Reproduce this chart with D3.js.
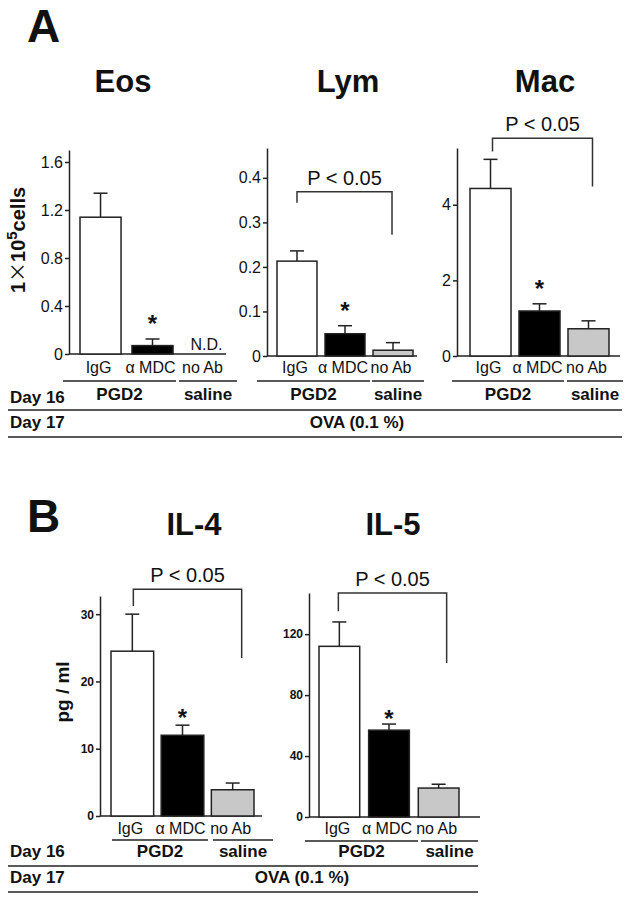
<!DOCTYPE html>
<html>
<head>
<meta charset="utf-8">
<script src="https://cdn.jsdelivr.net/npm/d3@7"></script>
<style>
  html, body { margin: 0; padding: 0; background: #fff; }
  text { font-family: "Liberation Sans", Arial, Helvetica, sans-serif; fill: #111; }
</style>
</head>
<body>
<script>
// ---------- DATA ----------
const categories = ["IgG", "α MDC", "no Ab"];
const groups = ["PGD2", "saline"];
const barColors = ["#ffffff", "#000000", "#c8c8c8"];

const eosMean = [1.14, 0.07, null];
const eosErr  = [0.20, 0.055, null];
const eosTicks = [0, 0.4, 0.8, 1.2, 1.6];

const lymMean = [0.213, 0.05, 0.013];
const lymErr  = [0.023, 0.018, 0.017];
const lymTicks = [0, 0.1, 0.2, 0.3, 0.4];

const macMean = [4.43, 1.19, 0.72];
const macErr  = [0.77, 0.19, 0.21];
const macTicks = [0, 2, 4];

const il4Mean = [24.5, 12.0, 3.9];
const il4Err  = [5.5, 1.5, 1.0];
const il4Ticks = [0, 10, 20, 30];

const il5Mean = [112, 57, 19];
const il5Err  = [16, 4, 2.5];
const il5Ticks = [0, 40, 80, 120];

const pText = "P < 0.05";
const day16 = "Day 16", day17 = "Day 17", ovaText = "OVA (0.1 %)";

// ---------- DRAW ----------
const svg = d3.select("body").append("svg").attr("width", 626).attr("height", 900);
const INK = "#222";

function panel(p) {
  const y = d3.scaleLinear().domain([0, p.max]).range([p.y0, p.yTop]);
  const x = d3.scaleBand().domain(categories).range(p.xr).paddingInner(p.pi).paddingOuter(0);
  const g = svg.append("g");

  // title
  g.append("text").attr("x", p.titleX).attr("y", p.titleY).attr("text-anchor", "middle")
    .style("font-size", "31px").style("font-weight", "bold").text(p.title);

  // y axis
  const ax = g.append("g").attr("transform", `translate(${p.ax},0)`)
    .call(d3.axisLeft(y).tickValues(p.ticks).tickSize(4).tickSizeOuter(0).tickFormat(p.fmt));
  ax.selectAll("path, line").attr("stroke", INK).attr("stroke-width", 1.5);
  ax.selectAll("text").style("font-family", "Liberation Sans, Arial, sans-serif")
    .style("font-size", p.tickSize).style("font-weight", p.tickWeight).attr("fill", "#111")
    .attr("x", -6);

  // baseline
  g.append("line").attr("x1", p.ax).attr("x2", p.xEnd).attr("y1", p.y0).attr("y2", p.y0)
    .attr("stroke", INK).attr("stroke-width", 1.5);

  const data = categories.map((c, i) => ({c, m: p.mean[i], e: p.err[i], col: barColors[i]}));
  const valid = data.filter(d => d.m != null);

  // error bars (drawn before bars)
  valid.forEach(d => {
    const cx = x(d.c) + x.bandwidth() / 2;
    g.append("line").attr("x1", cx).attr("x2", cx).attr("y1", y(d.m)).attr("y2", y(d.m + d.e))
      .attr("stroke", INK).attr("stroke-width", 1.5);
    g.append("line").attr("x1", cx - 7).attr("x2", cx + 7).attr("y1", y(d.m + d.e)).attr("y2", y(d.m + d.e))
      .attr("stroke", INK).attr("stroke-width", 1.5);
  });

  // bars
  g.selectAll("rect.bar").data(valid).enter().append("rect")
    .attr("x", d => x(d.c)).attr("width", x.bandwidth())
    .attr("y", d => y(d.m)).attr("height", d => p.y0 - y(d.m))
    .attr("fill", d => d.col).attr("stroke", INK).attr("stroke-width", 1.5);

  // asterisk on alpha MDC
  const a = data[1];
  g.append("text").attr("x", x(a.c) + x.bandwidth() / 2).attr("y", y(a.m + a.e) - p.astGap)
    .attr("text-anchor", "middle").style("font-size", "24px").style("font-weight", "bold").text("*");

  // N.D.
  data.filter(d => d.m == null).forEach(d => {
    g.append("text").attr("x", x(d.c) + x.bandwidth() / 2 + 2).attr("y", p.y0 - 4)
      .attr("text-anchor", "middle").style("font-size", "16px").text("N.D.");
  });

  // category labels
  g.selectAll("text.cat").data(categories).enter().append("text")
    .attr("x", c => x(c) + x.bandwidth() / 2 - 2).attr("y", p.labelY)
    .attr("text-anchor", "middle").style("font-size", "16px").text(c => c);

  // group underlines + labels
  const segs = [[p.ul[0], p.ul[1]], [p.ul[2], p.ul[3]]];
  segs.forEach((s, i) => {
    g.append("line").attr("x1", s[0]).attr("x2", s[1]).attr("y1", p.ulY).attr("y2", p.ulY)
      .attr("stroke", INK).attr("stroke-width", 1.3);
    g.append("text").attr("x", (s[0] + s[1]) / 2).attr("y", p.groupY).attr("text-anchor", "middle")
      .style("font-size", "17px").style("font-weight", "bold").text(groups[i]);
  });

  // significance bracket
  if (p.br) {
    const lx = x(categories[0]) + x.bandwidth() / 2 + p.br.dl;
    const rx = x(categories[2]) + x.bandwidth() / 2 + p.br.dr;
    g.append("path")
      .attr("d", `M${lx},${y(p.br.left)}V${y(p.br.top)}H${rx}V${y(p.br.right)}`)
      .attr("fill", "none").attr("stroke", "#333").attr("stroke-width", 1.5);
    g.append("text").attr("x", (lx + rx) / 2 + p.br.tdx).attr("y", y(p.br.top) - 7)
      .attr("text-anchor", "middle").style("font-size", "20px").text(pText);
  }
}

const fmt1 = d => d === 0 ? "0" : d3.format(".1f")(d);
const fmt0 = d => String(d);

// Panel A
svg.append("text").attr("x", 27).attr("y", 42).style("font-size", "46px").style("font-weight", "bold").text("A");

panel({title: "Eos", titleX: 123, titleY: 92, ax: 69, y0: 354, yTop: 150, max: 1.7, xEnd: 226,
  ticks: eosTicks, fmt: fmt1, tickSize: "16px", tickWeight: "normal",
  xr: [80, 225], pi: 0.21, mean: eosMean, err: eosErr, astGap: 7,
  labelY: 373, ulY: 381, ul: [63, 176, 179, 237], groupY: 400, br: null});

panel({title: "Lym", titleX: 348, titleY: 92, ax: 267, y0: 356, yTop: 148, max: 0.467, xEnd: 417,
  ticks: lymTicks, fmt: fmt1, tickSize: "16px", tickWeight: "normal",
  xr: [277, 413], pi: 0.167, mean: lymMean, err: lymErr, astGap: 7,
  labelY: 373, ulY: 381, ul: [257, 370, 372, 424], groupY: 400,
  br: {left: 0.344, top: 0.369, right: 0.272, dl: 0, dr: -1, tdx: 0}});

panel({title: "Mac", titleX: 545, titleY: 92, ax: 457, y0: 356, yTop: 148, max: 5.5, xEnd: 620,
  ticks: macTicks, fmt: fmt0, tickSize: "16px", tickWeight: "normal",
  xr: [470, 609], pi: 0.163, mean: macMean, err: macErr, astGap: 7,
  labelY: 373, ulY: 381, ul: [452, 564, 567, 623], groupY: 400,
  br: {left: 5.41, top: 5.76, right: 4.48, dl: 2, dr: 4, tdx: 0}});

// Day rows
function dayRows(y16, l16, y17, l17, xEnd, ovaX) {
  svg.append("text").attr("x", 10).attr("y", y16).style("font-size", "17px").style("font-weight", "bold").text(day16);
  svg.append("line").attr("x1", 8).attr("x2", xEnd).attr("y1", l16).attr("y2", l16).attr("stroke", INK).attr("stroke-width", 1.5);
  svg.append("text").attr("x", 10).attr("y", y17).style("font-size", "17px").style("font-weight", "bold").text(day17);
  svg.append("text").attr("x", ovaX).attr("y", y17).attr("text-anchor", "middle").style("font-size", "17px").style("font-weight", "bold").text(ovaText);
  svg.append("line").attr("x1", 8).attr("x2", xEnd).attr("y1", l17).attr("y2", l17).attr("stroke", INK).attr("stroke-width", 1.5);
}
dayRows(403, 410, 428, 437, 622, 357);

// y label A
const yl = svg.append("text").attr("transform", "translate(25,240) rotate(-90)")
  .attr("text-anchor", "middle").style("font-size", "20px").style("font-weight", "bold");
yl.append("tspan").text("1");
yl.append("tspan").style("font-family", "Noto Sans CJK JP").style("font-weight", "normal").text("×");
yl.append("tspan").text("10");
yl.append("tspan").attr("dy", -8).style("font-size", "15px").text("5");
yl.append("tspan").attr("dy", 8).text("cells");

// Panel B
svg.append("text").attr("x", 27).attr("y", 532).style("font-size", "46px").style("font-weight", "bold").text("B");

panel({title: "IL-4", titleX: 194, titleY: 535, ax: 100, y0: 816, yTop: 596, max: 32.7, xEnd: 262,
  ticks: il4Ticks, fmt: fmt0, tickSize: "12px", tickWeight: "bold",
  xr: [111, 254], pi: 0.15, mean: il4Mean, err: il4Err, astGap: -1,
  labelY: 834, ulY: 840, ul: [112, 208, 213, 273], groupY: 857,
  br: {left: 31.2, top: 33.7, right: 23.5, dl: 1, dr: 9, tdx: 0}});

panel({title: "IL-5", titleX: 393, titleY: 535, ax: 309, y0: 817, yTop: 593, max: 147, xEnd: 480,
  ticks: il5Ticks, fmt: fmt0, tickSize: "12px", tickWeight: "bold",
  xr: [319, 459], pi: 0.18, mean: il5Mean, err: il5Err, astGap: -3,
  labelY: 834, ulY: 841, ul: [305, 418, 421, 478], groupY: 857,
  br: {left: 135, top: 147, right: 101, dl: -1, dr: 8, tdx: 0}});

dayRows(857, 866, 883, 892, 478, 302);

svg.append("text").attr("transform", "translate(69,692) rotate(-90)")
  .attr("text-anchor", "middle").style("font-size", "19px").style("font-weight", "bold").text("pg / ml");
</script>
</body>
</html>
